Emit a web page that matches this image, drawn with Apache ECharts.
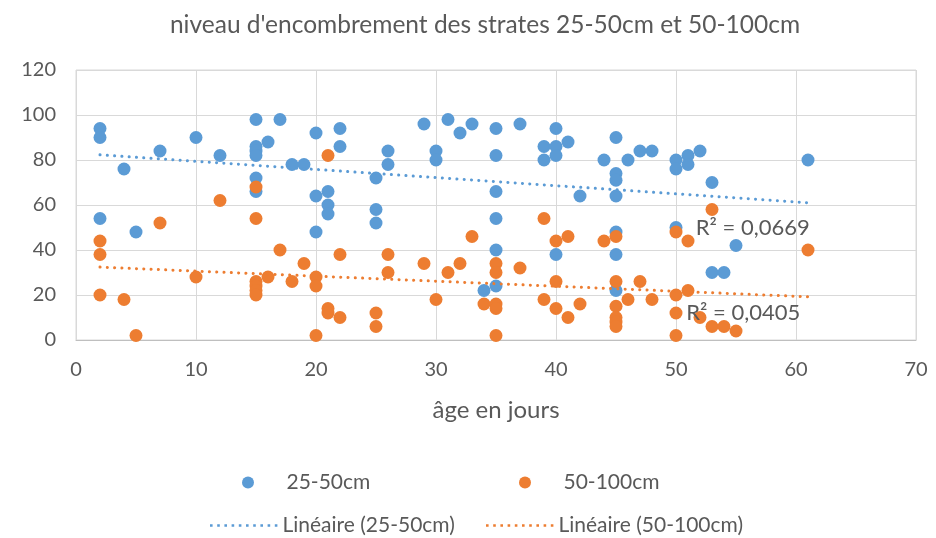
<!DOCTYPE html>
<html><head><meta charset="utf-8">
<script src="https://cdn.jsdelivr.net/npm/echarts@6/dist/echarts.min.js"></script>
<style>html,body{margin:0;padding:0;background:#fff}#c{width:936px;height:538px}</style>
</head><body><div id="c"></div>
<script>
const titleText = "niveau d'encombrement des strates 25-50cm et 50-100cm";
const xAxisName = "âge en jours";
const seriesNames = ["25-50cm", "50-100cm"];
const trendNames = ["Linéaire (25-50cm)", "Linéaire (50-100cm)"];
const r2Labels = ["R² = 0,0669", "R² = 0,0405"];
const r2Positions = [[56.4, 50], [55.6, 12]];

const blue = [
  [2,94],[2,90],[2,54],[4,76],[5,48],[7,84],[10,90],[12,82],
  [15,98],[15,86],[15,84],[15,82],[15,72],[15,66],[16,88],[17,98],[18,78],[19,78],
  [20,92],[20,64],[20,48],[21,66],[21,60],[21,56],[22,94],[22,86],
  [25,72],[25,58],[25,52],[26,84],[26,78],[29,96],[30,84],[30,80],[31,98],[32,92],[33,96],
  [34,22],[35,94],[35,82],[35,66],[35,54],[35,40],[35,24],[37,96],
  [39,86],[39,80],[40,94],[40,86],[40,82],[40,38],[41,88],[42,64],
  [44,80],[45,90],[45,74],[45,71],[45,64],[45,48],[45,38],[45,22],[46,80],[47,84],[48,84],
  [50,80],[50,76],[50,50],[51,82],[51,78],[52,84],[53,70],[53,30],[54,30],[55,42],[61,80]
];
const orange = [
  [2,44],[2,38],[2,20],[4,18],[5,2],[7,52],[10,28],[12,62],
  [15,68],[15,54],[15,26],[15,24],[15,22],[15,20],[16,28],[17,40],[18,26],[19,34],
  [20,28],[20,24],[20,2],[21,82],[21,14],[21,12],[22,38],[22,10],
  [25,12],[25,6],[26,38],[26,30],[29,34],[30,18],[31,30],[32,34],[33,46],
  [34,16],[35,34],[35,30],[35,16],[35,14],[35,2],[37,32],
  [39,54],[39,18],[40,44],[40,26],[40,14],[41,46],[41,10],[42,16],
  [44,44],[45,46],[45,26],[45,15],[45,10],[45,8],[45,6],[46,18],[47,26],[48,18],
  [50,48],[50,20],[50,12],[50,2],[51,44],[51,22],[52,10],[53,58],[53,6],[54,6],[55,4],[61,40]
];
// linear trend line end points
const trendBlue = [[2,82.3],[61,61.0]];
const trendOrange = [[2,32.4],[61,19.2]];

const BLUE='#5B9BD5', ORANGE='#ED7D31', TXT='#595959';
const FONT='Lato';
// dotted legend icon (10 small dots)
let dots=''; for(let i=0;i<10;i++){ const x=(i*7.2).toFixed(1); dots+='M'+x+',0h2.6v2.6h-2.6z'; }
const dotIcon='path://'+dots;

const chart = echarts.init(document.getElementById('c'), null, {renderer:'canvas'});
const legendBase = {orient:'horizontal', padding:0, textStyle:{color:TXT, fontSize:21, fontFamily:FONT}, itemGap:6, selectedMode:false};
chart.setOption({
  animation:false,
  textStyle:{fontFamily:FONT},
  title:{text:titleText, left:480, textAlign:'center', top:8, textStyle:{color:TXT, fontSize:24.5, fontWeight:'normal', fontFamily:FONT}},
  grid:{left:76, right:20, top:70, bottom:198, show:true, borderColor:'#d9d9d9', borderWidth:1},
  xAxis:{type:'value', min:0, max:70, interval:10, name:xAxisName, nameLocation:'middle', nameGap:58,
    nameTextStyle:{color:TXT, fontSize:24, fontFamily:FONT},
    axisLine:{lineStyle:{color:'#bfbfbf'}}, axisTick:{show:false},
    axisLabel:{color:TXT, fontSize:20, margin:20, fontFamily:FONT},
    splitLine:{lineStyle:{color:'#d9d9d9'}}},
  yAxis:{type:'value', min:0, max:120, interval:20,
    axisLine:{show:false}, axisTick:{show:false},
    axisLabel:{color:TXT, fontSize:20, margin:20, fontFamily:FONT},
    splitLine:{lineStyle:{color:'#d9d9d9'}}},
  legend:[
    Object.assign({}, legendBase, {data:[{name:seriesNames[0], icon:'circle'}], left:242, top:472, itemWidth:67, itemHeight:12}),
    Object.assign({}, legendBase, {data:[{name:seriesNames[1], icon:'circle'}], left:519, top:472, itemWidth:67, itemHeight:12}),
    Object.assign({}, legendBase, {data:[{name:trendNames[0], icon:dotIcon}], left:210, top:515, itemWidth:67.4, itemHeight:2.6}),
    Object.assign({}, legendBase, {data:[{name:trendNames[1], icon:dotIcon}], left:486, top:515, itemWidth:67.4, itemHeight:2.6})
  ],
  series:[
    {name:seriesNames[0], type:'scatter', data:blue, symbolSize:13, itemStyle:{color:BLUE, opacity:1}, z:3},
    {name:seriesNames[1], type:'scatter', data:orange, symbolSize:13, itemStyle:{color:ORANGE, opacity:1}, z:4},
    {name:trendNames[0], type:'line', data:trendBlue, showSymbol:false, symbol:'none', z:5,
      lineStyle:{color:BLUE, width:3, type:[0.1,7.2], cap:'round'}, itemStyle:{color:BLUE},
      markPoint:{symbol:'circle', symbolSize:0, data:[{coord:r2Positions[0], value:r2Labels[0]}],
        label:{show:true, position:'inside', formatter:r2Labels[0], color:TXT, fontSize:22, fontFamily:FONT}}},
    {name:trendNames[1], type:'line', data:trendOrange, showSymbol:false, symbol:'none', z:5,
      lineStyle:{color:ORANGE, width:3, type:[0.1,7.2], cap:'round'}, itemStyle:{color:ORANGE},
      markPoint:{symbol:'circle', symbolSize:0, data:[{coord:r2Positions[1], value:r2Labels[1]}],
        label:{show:true, position:'inside', formatter:r2Labels[1], color:TXT, fontSize:22, fontFamily:FONT}}}
  ]
});
</script></body></html>
